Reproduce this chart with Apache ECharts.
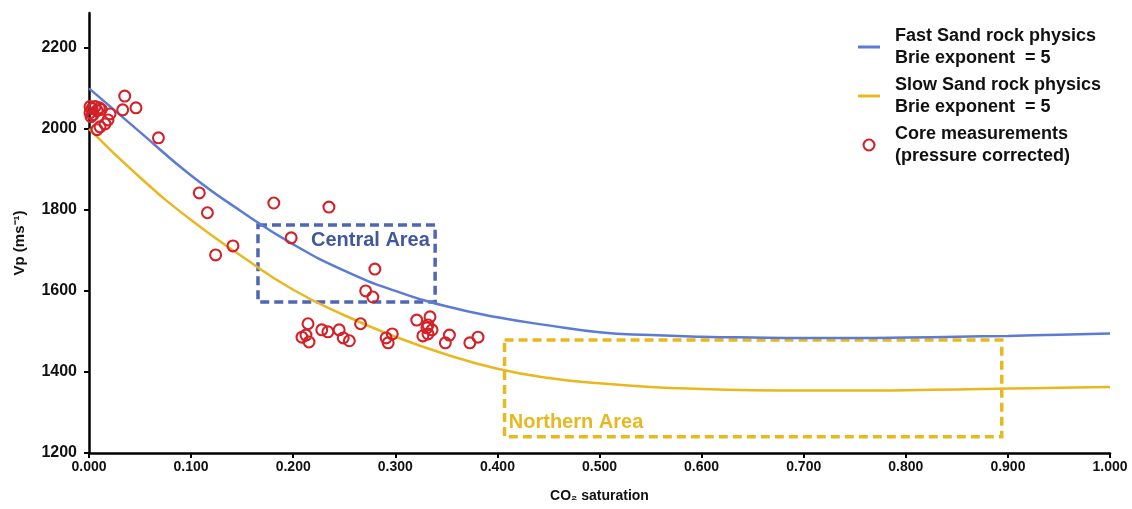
<!DOCTYPE html>
<html>
<head>
<meta charset="utf-8">
<script src="https://cdn.jsdelivr.net/npm/echarts@6/dist/echarts.min.js"></script>
<style>
html,body{margin:0;padding:0;background:#fff;}
#chart{width:1132px;height:509px;}
</style>
</head>
<body>
<div id="chart"></div>
<script>
// ---- data ----
const saturation = [0,0.05,0.1,0.15,0.2,0.25,0.3,0.35,0.4,0.45,0.5,0.55,0.6,0.65,0.7,0.75,0.8,0.85,0.9,0.95,1.0];
const fastVp = [2100,1992,1885,1795,1715,1650,1600,1562,1535,1515,1498,1491,1487,1485,1484,1484,1485,1487,1489,1492,1495];
const slowVp = [2000,1880,1775,1685,1603,1540,1487,1443,1408,1385,1372,1363,1358,1355,1354,1354,1355,1357,1359,1361,1363];
const coreX = [0.001,0.003,0.006,0.001,0.004,0.008,0.010,0.012,0.002,0.0206,0.0186,0.0157,0.0108,0.0078,
  0.035,0.033,0.046,0.068,0.108,0.116,0.124,0.141,0.181,0.198,0.235,0.280,0.271,0.278,0.266,
  0.2145,0.2086,0.2125,0.2155,0.228,0.234,0.245,0.249,0.255,0.291,0.293,0.297,
  0.321,0.334,0.332,0.331,0.336,0.327,0.332,0.353,0.349,0.373,0.381];
const coreVp = [2055,2050,2055,2040,2035,2045,2052,2048,2030,2037,2022,2012,2005,1998,
  2081,2047,2052,1978,1842,1793,1689,1711,1817,1731,1807,1654,1600,1585,1519,
  1519,1486,1491,1474,1504,1499,1504,1484,1477,1484,1472,1494,
  1528,1536,1516,1509,1504,1489,1494,1491,1472,1472,1486];
const centralBox = [0.1655, 0.339, 1573, 1763];   // x0, x1, y0, y1
const northernBox = [0.407, 0.894, 1240, 1479];
const yTicks = [1200,1400,1600,1800,2000,2200];

const names = {
  fast: 'Fast Sand rock physics\nBrie exponent  = 5',
  slow: 'Slow Sand rock physics\nBrie exponent  = 5',
  core: 'Core measurements\n(pressure corrected)'
};
const FONT = '"Liberation Sans", Arial, sans-serif';
const RED = '#D42027';
const RING = 'path://M0,-6.5A6.5,6.5 0 1,1 0,6.5A6.5,6.5 0 1,1 0,-6.5ZM0,-4.4A4.4,4.4 0 1,0 0,4.4A4.4,4.4 0 1,0 0,-4.4Z';
const zip = (a, b) => a.map((v, i) => [v, b[i]]);

const chart = echarts.init(document.getElementById('chart'), null, {renderer: 'canvas'});
chart.setOption({
  animation: false,
  backgroundColor: '#ffffff',
  grid: {left: 89, right: 22, top: 13, bottom: 56, containLabel: false},
  legend: {
    orient: 'vertical', left: 853, top: 20, itemGap: 5, itemWidth: 22, itemHeight: 13,
    data: [
      {name: names.fast, icon: 'path://M0,0H22V3H0Z'},
      {name: names.slow, icon: 'path://M0,0H22V3H0Z'},
      {name: names.core, icon: RING}
    ],
    textStyle: {fontFamily: FONT, fontWeight: 'bold', fontSize: 18, color: '#111', lineHeight: 22, padding: [0,0,0,10]}
  },
  xAxis: {
    type: 'value', min: 0, max: 1, interval: 0.1,
    name: 'CO₂ saturation', nameLocation: 'middle', nameGap: 36,
    nameTextStyle: {fontFamily: FONT, fontWeight: 'bold', fontSize: 14, color: '#111'},
    axisLine: {show: true, lineStyle: {color: '#000', width: 2.5}},
    axisTick: {show: true, length: 5, lineStyle: {color: '#000', width: 2}},
    axisLabel: {fontFamily: FONT, fontWeight: 'bold', fontSize: 14, color: '#111', margin: 7,
      formatter: v => v.toFixed(3)},
    splitLine: {show: false}
  },
  yAxis: {
    type: 'value', min: 1200, max: 2286, interval: 200,
    name: 'Vp (ms⁻¹)', nameLocation: 'middle', nameGap: 62,
    nameTextStyle: {fontFamily: FONT, fontWeight: 'bold', fontSize: 15, color: '#111', padding: [0,20,0,0]},
    axisLine: {show: true, onZero: false, lineStyle: {color: '#000', width: 2.5}},
    axisTick: {show: true, length: 5, customValues: yTicks, lineStyle: {color: '#000', width: 2}},
    axisLabel: {fontFamily: FONT, fontWeight: 'bold', fontSize: 16, color: '#111', margin: 12, customValues: yTicks,
      formatter: v => String(v)},
    splitLine: {show: false}
  },
  series: [
    {
      name: names.fast, type: 'line', data: zip(saturation, fastVp), smooth: true,
      symbol: 'none', lineStyle: {color: '#5B7BD5', width: 2.5}, itemStyle: {color: '#5B7BD5'}, z: 3
    },
    {
      name: names.slow, type: 'line', data: zip(saturation, slowVp), smooth: true,
      symbol: 'none', lineStyle: {color: '#E8B820', width: 2.5}, itemStyle: {color: '#E8B820'}, z: 3
    },
    {
      name: names.core, type: 'scatter', data: zip(coreX, coreVp),
      symbol: RING, symbolSize: 13,
      itemStyle: {color: RED, opacity: 1}, z: 4
    },
    {
      name: 'boxes', type: 'line', data: [], silent: true,
      markArea: {
        silent: true,
        data: [
          [{coord: [centralBox[0], centralBox[3]],
            itemStyle: {color: 'rgba(0,0,0,0)', borderColor: '#4E67B2', borderWidth: 3.5, borderType: [9, 5]},
            label: {show: true, position: 'insideTopRight', distance: 7, formatter: 'Central Area',
              fontFamily: FONT, fontWeight: 'bold', fontSize: 20, color: '#42589E'}},
           {coord: [centralBox[1], centralBox[2]]}],
          [{coord: [northernBox[0], northernBox[3]],
            itemStyle: {color: 'rgba(0,0,0,0)', borderColor: '#E8B820', borderWidth: 3.5, borderType: [9, 5]},
            label: {show: true, position: 'insideBottomLeft', distance: 6, formatter: 'Northern Area',
              fontFamily: FONT, fontWeight: 'bold', fontSize: 20, color: '#E8B820'}},
           {coord: [northernBox[1], northernBox[2]]}]
        ]
      }
    }
  ]
});
</script>
</body>
</html>
